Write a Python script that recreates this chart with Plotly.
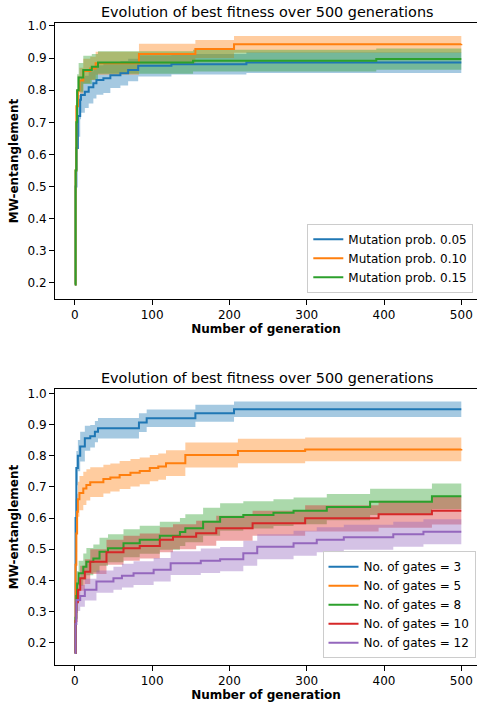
import numpy as np
import plotly.graph_objects as go

# ---------------- data ----------------
title_text = "Evolution of best fitness over 500 generations"
x_label = "Number of generation"
y_label = "MW-entanglement"
x_ticks = [0, 100, 200, 300, 400, 500]
y_ticks = [0.2, 0.3, 0.4, 0.5, 0.6, 0.7, 0.8, 0.9, 1.0]

# Top panel: mutation probability
mut_names = ["Mutation prob. 0.05", "Mutation prob. 0.10", "Mutation prob. 0.15"]

mut005_gen = [0, 1, 2, 4, 7, 8, 13, 18, 24, 28, 37, 46, 59, 69, 82, 125, 222, 500]
mut005_mean = [0.195, 0.50, 0.62, 0.72, 0.77, 0.785, 0.795, 0.809, 0.822, 0.832, 0.837, 0.847, 0.853, 0.863, 0.876, 0.881, 0.886, 0.886]
mut005_std = [0.0, 0.07, 0.07, 0.065, 0.06, 0.055, 0.05, 0.05, 0.048, 0.046, 0.046, 0.04, 0.038, 0.035, 0.033, 0.032, 0.032, 0.032]

mut010_gen = [0, 1, 2, 4, 6, 11, 20, 27, 83, 156, 206, 500]
mut010_mean = [0.195, 0.55, 0.75, 0.80, 0.83, 0.86, 0.868, 0.884, 0.913, 0.928, 0.943, 0.944]
mut010_std = [0.0, 0.06, 0.05, 0.045, 0.04, 0.038, 0.036, 0.036, 0.032, 0.028, 0.026, 0.026]

mut015_gen = [0, 1, 2, 3, 5, 11, 22, 30, 153, 390, 500]
mut015_mean = [0.195, 0.55, 0.70, 0.80, 0.84, 0.863, 0.873, 0.886, 0.892, 0.897, 0.897]
mut015_std = [0.0, 0.07, 0.06, 0.05, 0.045, 0.044, 0.04, 0.035, 0.034, 0.033, 0.033]

# Bottom panel: number of gates
gate_names = ["No. of gates = 3", "No. of gates = 5", "No. of gates = 8",
              "No. of gates = 10", "No. of gates = 12"]

g3_gen = [0, 1, 2, 4, 7, 13, 20, 26, 30, 83, 93, 156, 206, 500]
g3_mean = [0.167, 0.60, 0.76, 0.80, 0.829, 0.856, 0.862, 0.877, 0.888, 0.906, 0.920, 0.936, 0.949, 0.949]
g3_std = [0.0, 0.06, 0.055, 0.05, 0.048, 0.04, 0.036, 0.034, 0.033, 0.03, 0.028, 0.027, 0.025, 0.025]

g5_gen = [0, 1, 2, 3, 4, 6, 11, 15, 20, 37, 46, 58, 72, 84, 97, 108, 118, 143, 211, 298, 500]
g5_mean = [0.167, 0.45, 0.55, 0.62, 0.66, 0.68, 0.695, 0.706, 0.715, 0.725, 0.73, 0.738, 0.745, 0.751,
           0.76, 0.765, 0.776, 0.802, 0.815, 0.820, 0.821]
g5_std = [0.0, 0.06, 0.06, 0.058, 0.056, 0.055, 0.053, 0.05, 0.048, 0.046, 0.045, 0.045, 0.044, 0.043,
          0.042, 0.042, 0.041, 0.04, 0.039, 0.038, 0.038]

g8_gen = [0, 1, 2, 3, 5, 11, 15, 24, 32, 43, 63, 84, 110, 136, 143, 166, 188, 218, 257, 283, 326, 382, 462, 500]
g8_mean = [0.167, 0.28, 0.35, 0.39, 0.423, 0.444, 0.46, 0.47, 0.492, 0.503, 0.519, 0.53, 0.543, 0.555,
           0.567, 0.588, 0.603, 0.610, 0.617, 0.623, 0.635, 0.652, 0.670, 0.670]
g8_std = [0.0, 0.03, 0.035, 0.04, 0.04, 0.042, 0.044, 0.045, 0.045, 0.045, 0.045, 0.045, 0.045, 0.045,
          0.045, 0.045, 0.044, 0.044, 0.043, 0.043, 0.042, 0.042, 0.041, 0.041]

g10_gen = [0, 1, 2, 4, 7, 13, 20, 41, 63, 84, 110, 127, 157, 183, 230, 298, 393, 462, 500]
g10_mean = [0.167, 0.27, 0.33, 0.37, 0.407, 0.428, 0.46, 0.49, 0.503, 0.51, 0.53, 0.54, 0.551, 0.567,
            0.583, 0.599, 0.612, 0.623, 0.623]
g10_std = [0.0, 0.03, 0.035, 0.038, 0.04, 0.04, 0.04, 0.04, 0.04, 0.04, 0.04, 0.04, 0.04, 0.04,
           0.04, 0.042, 0.043, 0.044, 0.044]

g12_gen = [0, 1, 2, 7, 13, 28, 50, 61, 76, 102, 124, 163, 188, 218, 236, 283, 313, 348, 412, 451, 500]
g12_mean = [0.167, 0.26, 0.337, 0.35, 0.37, 0.396, 0.407, 0.415, 0.423, 0.434, 0.455, 0.463, 0.468,
            0.487, 0.508, 0.519, 0.53, 0.538, 0.548, 0.556, 0.556]
g12_std = [0.0, 0.03, 0.035, 0.035, 0.035, 0.036, 0.037, 0.038, 0.038, 0.038, 0.038, 0.039, 0.039,
           0.04, 0.04, 0.04, 0.04, 0.04, 0.04, 0.04, 0.04]

# ---------------- styling ----------------
colors = [(31, 119, 180), (255, 127, 14), (44, 160, 44), (214, 39, 40), (148, 103, 189)]
FONT = "DejaVu Sans"

top_series = [(mut005_gen, mut005_mean, mut005_std),
              (mut010_gen, mut010_mean, mut010_std),
              (mut015_gen, mut015_mean, mut015_std)]
bottom_series = [(g3_gen, g3_mean, g3_std), (g5_gen, g5_mean, g5_std),
                 (g8_gen, g8_mean, g8_std), (g10_gen, g10_mean, g10_std),
                 (g12_gen, g12_mean, g12_std)]

fig = go.Figure()


def add_panel(series, names, xa, ya, legend):
    # bands first (drawn below lines, like matplotlib zorder)
    for (g, m, s), c in zip(series, colors):
        m = np.array(m)
        s = np.array(s)
        fig.add_trace(go.Scatter(x=g, y=m - s, mode="lines", line=dict(width=0, shape="hv"),
                                 showlegend=False, hoverinfo="skip", xaxis=xa, yaxis=ya))
        fig.add_trace(go.Scatter(x=g, y=m + s, mode="lines", line=dict(width=0, shape="hv"),
                                 fill="tonexty", fillcolor="rgba(%d,%d,%d,0.4)" % c,
                                 showlegend=False, hoverinfo="skip", xaxis=xa, yaxis=ya))
    for (g, m, s), c, n in zip(series, colors, names):
        fig.add_trace(go.Scatter(x=g, y=m, mode="lines", name=n,
                                 line=dict(color="rgb(%d,%d,%d)" % c, width=2, shape="hv"),
                                 xaxis=xa, yaxis=ya, legend=legend))


add_panel(top_series, mut_names, "x", "y", "legend")
add_panel(bottom_series, gate_names, "x2", "y2", "legend2")

W, H = 477, 706
ML, MR, MT, MB = 55, 0, 23, 41
ph = H - MT - MB
pw = W - ML - MR


def py(pix):
    return (H - MB - pix) / ph


def px(pix):
    return (pix - ML) / pw


xcommon = dict(range=[-25.6, 520.3], tickvals=x_ticks, ticks="outside", ticklen=5, tickwidth=1,
               tickcolor="black", showline=True, linecolor="black", linewidth=1, mirror=True,
               showgrid=False, zeroline=False, automargin=False,
               tickfont=dict(family=FONT, size=12, color="black"),
               title=dict(text="<b>%s</b>" % x_label, font=dict(family=FONT, size=12, color="black"),
                          standoff=3))
ycommon = dict(tickvals=y_ticks, tickformat=".1f", ticks="outside", ticklen=5, tickwidth=1,
               tickcolor="black", showline=True, linecolor="black", linewidth=1, mirror=False,
               showgrid=False, zeroline=False, automargin=False,
               tickfont=dict(family=FONT, size=12, color="black"),
               title=dict(text="<b>%s</b>" % y_label, font=dict(family=FONT, size=12, color="black"),
                          standoff=6))

top_dom = [py(299), py(23)]
bot_dom = [py(665), py(389)]

legend_style = dict(bgcolor="rgba(255,255,255,0.8)", bordercolor="#cccccc", borderwidth=1,
                    font=dict(family=FONT, size=12, color="black"), xanchor="right", yanchor="bottom",
                    tracegroupgap=0, traceorder="normal")

fig.update_layout(
    width=W, height=H, margin=dict(l=ML, r=MR, t=MT, b=MB),
    paper_bgcolor="white", plot_bgcolor="white",
    font=dict(family=FONT, size=12, color="black"),
    xaxis=dict(domain=[0, 1], anchor="y", **xcommon),
    yaxis=dict(domain=top_dom, anchor="x", range=[0.150, 1.0093], **ycommon),
    xaxis2=dict(domain=[0, 1], anchor="y2", **xcommon),
    yaxis2=dict(domain=bot_dom, anchor="x2", range=[0.1285, 1.0138], **ycommon),
    legend=dict(x=px(473.3), y=py(292.7), **legend_style),
    legend2=dict(x=px(475.5), y=py(658.3), **legend_style),
    showlegend=True,
    annotations=[
        dict(text=title_text, xref="paper", yref="paper", x=px(267.8), y=top_dom[1],
             xanchor="center", yanchor="bottom", yshift=1, showarrow=False,
             font=dict(family=FONT, size=14.4, color="black")),
        dict(text=title_text, xref="paper", yref="paper", x=px(267.8), y=bot_dom[1],
             xanchor="center", yanchor="bottom", yshift=1, showarrow=False,
             font=dict(family=FONT, size=14.4, color="black")),
    ],
)

# remove the default 8px page margin so the figure sits at the window's top-left corner
fig.write_html("out.html", config={"displayModeBar": False},
               post_script="document.body.style.margin='0';document.body.style.padding='0';")
